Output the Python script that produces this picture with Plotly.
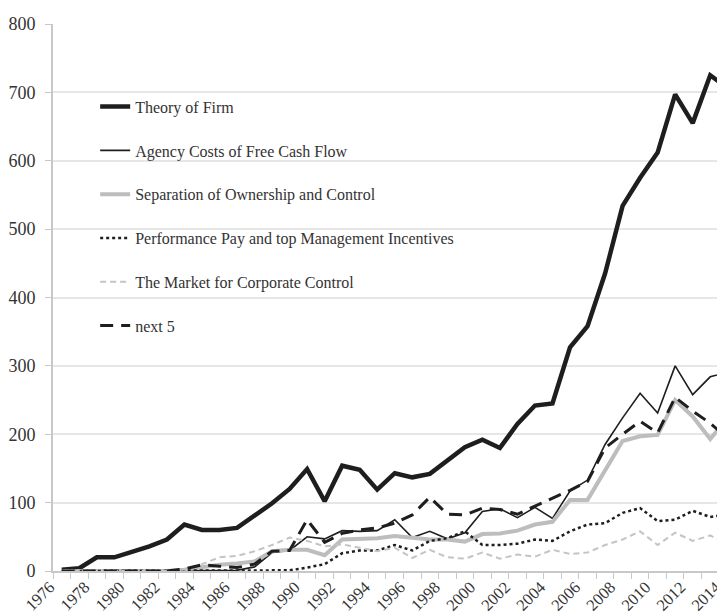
import plotly.graph_objects as go

years = list(range(1976, 2015))

theory_of_firm = [2, 4, 20, 20, 28, 36, 46, 68, 60, 60, 63, 81, 99, 120, 149, 102, 154, 148, 119, 143,
                  137, 142, 162, 181, 192, 180, 215, 242, 245, 327, 358, 435, 534, 575, 612, 697, 655, 725, 706]
agency_costs = [0, 0, 0, 0, 0, 0, 0, 0, 0, 0, 1, 6, 27, 30, 50, 47, 59, 58, 59, 75,
                49, 58, 47, 56, 87, 91, 78, 93, 77, 117, 133, 185, 224, 260, 231, 300, 258, 284, 291]
separation = [0, 0, 0, 0, 0, 0, 0, 2, 6, 9, 11, 14, 29, 31, 31, 23, 46, 47, 48, 51,
              49, 46, 46, 43, 54, 55, 59, 68, 72, 104, 104, 146, 190, 197, 199, 250, 226, 193, 224]
performance_pay = [0, 0, 0, 0, 0, 0, 0, 0, 0, 0, 0, 0, 0, 1, 5, 10, 26, 30, 30, 38,
                   30, 44, 48, 58, 38, 38, 40, 46, 44, 58, 68, 70, 85, 92, 73, 75, 88, 79, 83]
market_control = [0, 0, 0, 0, 0, 0, 0, 2, 10, 20, 22, 29, 38, 49, 44, 36, 39, 34, 29, 34,
                  19, 31, 20, 18, 27, 18, 24, 21, 31, 25, 27, 38, 46, 58, 38, 56, 44, 52, 38]
next_5 = [0, 0, 0, 0, 0, 0, 0, 3, 9, 7, 5, 10, 29, 30, 75, 42, 55, 60, 63, 70,
          82, 108, 83, 82, 92, 90, 83, 95, 106, 118, 131, 180, 200, 219, 202, 254, 234, 216, 194]

series_names = ["Theory of Firm", "Agency Costs of Free Cash Flow", "Separation of Ownership and Control",
                "Performance Pay and top Management Incentives", "The Market for Corporate Control", "next 5"]
series_values = [theory_of_firm, agency_costs, separation, performance_pay, market_control, next_5]
styles = [
    dict(color="#1e1e1e", width=4.5, dash="solid"),
    dict(color="#1e1e1e", width=1.6, dash="solid"),
    dict(color="#bdbdbd", width=4, dash="solid"),
    dict(color="#1e1e1e", width=2.5, dash="dot"),
    dict(color="#c4c4c4", width=2, dash="6px,4px"),
    dict(color="#1e1e1e", width=3, dash="13px,8px"),
]

fig = go.Figure()
for i, (name, vals, st) in enumerate(zip(series_names, series_values, styles)):
    fig.add_trace(go.Scatter(x=years, y=vals, mode="lines", name=name,
                             legendgroup=f"g{i}", line=st))

label_years = list(range(1976, 2015, 2))
fig.update_layout(
    width=725, height=616,
    margin=dict(l=45, r=0, t=16, b=53, autoexpand=False),
    paper_bgcolor="white", plot_bgcolor="white",
    font=dict(family="Liberation Serif", size=18, color="#333333"),
    showlegend=True,
    legend=dict(x=0.062, y=0.88, xanchor="left", yanchor="top",
                bgcolor="rgba(0,0,0,0)", borderwidth=0,
                font=dict(family="Liberation Serif", size=16, color="#333333"),
                tracegroupgap=20, traceorder="grouped"),
    xaxis=dict(range=[1975.5, 2014.3], showgrid=False, zeroline=False, automargin=False,
               showline=True, linecolor="#c8c8c8", linewidth=2,
               tickmode="array", tickvals=label_years, ticktext=[str(y) for y in label_years],
               ticks="", tickangle=-45, ticklabeloverflow="allow",
               ticklabelstandoff=-2, ticklabelshift=-12,
               tickfont=dict(family="Liberation Serif", size=16.5, color="#333333"),
               minor=dict(tickmode="array", tickvals=[y - 0.5 for y in years] + [2014.5],
                          ticks="outside", ticklen=6, tickcolor="#c8c8c8", tickwidth=1, showgrid=False)),
    yaxis=dict(range=[0, 800], tickvals=list(range(0, 801, 100)), showgrid=True, automargin=False,
               gridcolor="#e6e6e6", gridwidth=1.5, zeroline=False,
               showline=True, linecolor="#c8c8c8", linewidth=2,
               ticks="outside", ticklen=6, tickcolor="#c8c8c8",
               ticklabelstandoff=6,
               tickfont=dict(family="Liberation Serif", size=18, color="#333333")),
)

fig.write_html("out.html")
